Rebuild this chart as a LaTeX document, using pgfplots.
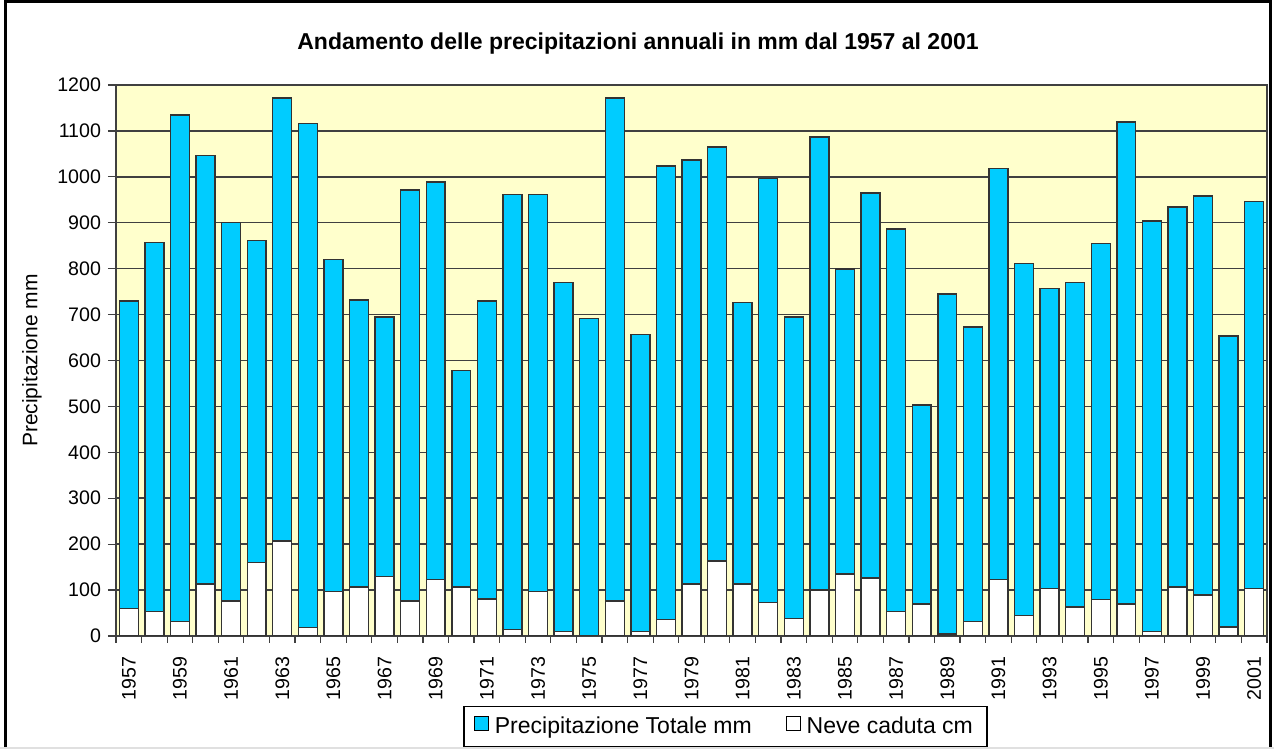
\documentclass[border=0pt]{standalone}
\usepackage{fontspec}
\setmainfont{Liberation Sans}
\usepackage{pgfplots}
\usepackage{pgfplotstable}
\pgfplotsset{compat=1.18}
\definecolor{cyanbar}{HTML}{00CCFF}
\definecolor{bgyellow}{HTML}{FFFFCC}
\definecolor{gridc}{HTML}{404040}

% x = year - 1957
\pgfplotstableread{
x tot neve
0 730 60
1 857 54
2 1135 32
3 1046 113
4 901 76
5 861 160
6 1172 207
7 1116 19
8 820 97
9 732 107
10 695 129
11 971 76
12 989 123
13 578 107
14 730 81
15 962 14
16 962 97
17 770 10
18 692 0
19 1172 76
20 657 10
21 1024 36
22 1037 113
23 1065 163
24 726 113
25 997 73
26 695 38
27 1087 100
28 799 135
29 965 126
30 886 54
31 503 70
32 745 4
33 673 32
34 1018 123
35 811 44
36 757 104
37 770 63
38 855 79
39 1119 70
40 904 10
41 934 107
42 958 89
43 653 20
44 946 104
}\datatable

\begin{document}
\begin{tikzpicture}
\useasboundingbox (0,0) rectangle (637pt,374.5pt);
\fill[white] (0,0) rectangle (637pt,374.5pt);
\begin{axis}[
  at={(58pt,56.5pt)}, anchor=south west,
  scale only axis, width=575.5pt, height=275.5pt,
  xmin=-0.5, xmax=44.5, ymin=0, ymax=1200,
  ytick={0,100,...,1200},
  xtick={0,2,...,44},
  xticklabels={1957,1959,1961,1963,1965,1967,1969,1971,1973,1975,1977,1979,1981,1983,1985,1987,1989,1991,1993,1995,1997,1999,2001},
  minor xtick={-0.5,0.5,...,44.5},
  tick align=outside,
  xtick pos=bottom, ytick pos=left,
  major tick length=4pt, minor tick length=3.5pt,
  major x tick style={draw=none},
  minor x tick style={gridc, line width=0.6pt},
  major y tick style={gridc, line width=0.6pt},
  ymajorgrids,
  major grid style={gridc, line width=0.75pt},
  axis line style={gridc, line width=0.75pt},
  axis background/.style={fill=bgyellow},
  /pgf/number format/assume math mode=true,
  /pgf/number format/1000 sep={},
  yticklabel style={font=\fontsize{9.8}{11}\selectfont},
  xticklabel shift=3pt,
  xticklabel style={rotate=90, anchor=east, font=\fontsize{9.8}{11}\selectfont},
  ylabel={Precipitazione mm},
  ylabel style={at={(axis description cs:-0.073,0.5)}, anchor=center, font=\fontsize{10.5}{12}\selectfont},
  legend columns=2,
  legend style={at={(axis description cs:0.5295,-0.1642)}, anchor=center,
    draw=black, line width=0.6pt, font=\fontsize{11.5}{13}\selectfont,
    inner xsep=5pt, inner ysep=3pt,
    /tikz/every even column/.append style={column sep=15pt}},
]
\addplot[ybar, bar width=0.74, bar shift=0pt, fill=cyanbar, draw=black!80, line width=0.7pt,
  legend image code/.code={\draw[fill=cyanbar, draw=black, line width=0.6pt] (0pt,-2pt) rectangle (7pt,5pt); \path (7.8pt,0);}]
  table[x=x, y=tot] {\datatable};
\addlegendentry{Precipitazione Totale mm}
\addplot[ybar, bar width=0.74, bar shift=0pt, fill=white, draw=black!80, line width=0.7pt,
  legend image code/.code={\draw[fill=white, draw=black, line width=0.6pt] (0pt,-2pt) rectangle (7pt,5pt); \path (7.8pt,0);}]
  table[x=x, y=neve] {\datatable};
\addlegendentry{Neve caduta cm}
\end{axis}
\node[font=\bfseries\fontsize{11.5}{13}\selectfont] at (319pt,352.5pt) {Andamento delle precipitazioni annuali in mm dal 1957 al 2001};
\draw[black, line width=1.5pt] (2.5pt,0) -- (2.5pt,373.75pt) -- (635pt,373.75pt) -- (635pt,0);
\draw[black!12, line width=1pt] (0,0.5pt) -- (637pt,0.5pt);
\end{tikzpicture}
\end{document}
